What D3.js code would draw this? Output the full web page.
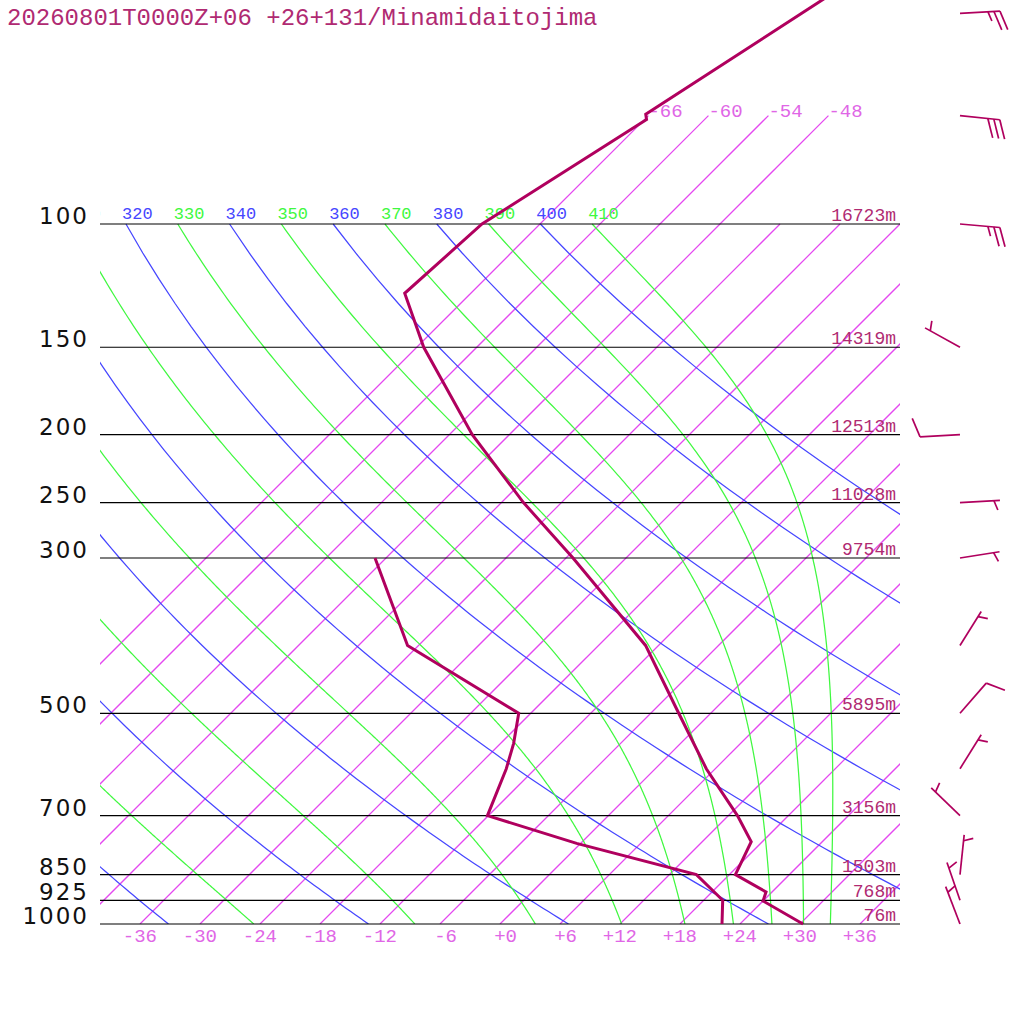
<!DOCTYPE html>
<html><head><meta charset="utf-8">
<script src="https://cdn.jsdelivr.net/npm/d3@7"></script>
<style>body{margin:0;background:#fff}</style>
</head><body>
<script>
// ---------------- data ----------------
const title = "20260801T0000Z+06 +26+131/Minamidaitojima";
const pressureLevels = [100, 150, 200, 250, 300, 500, 700, 850, 925, 1000];
const heightLabels = ["16723m", "14319m", "12513m", "11028m", "9754m", "5895m", "3156m", "1503m", "768m", "76m"];
const tempTicks = [-36, -30, -24, -18, -12, -6, 0, 6, 12, 18, 24, 30, 36];
const isotherms = [-66, -60, -54, -48, -42, -36, -30, -24, -18, -12, -6, 0, 6, 12, 18, 24, 30, 36];
const isothermTopLabels = [-66, -60, -54, -48];
const dryThetas = [240, 260, 280, 300, 320, 340, 360, 380, 400];
const moistThetas = [250, 270, 290, 310, 330, 350, 370, 390, 410];
const thetaLabels = [310, 320, 330, 340, 350, 360, 370, 380, 390, 400, 410];

const tempP = [1000, 927, 900, 850, 763, 700, 600, 500, 400, 300, 250, 200, 150, 125.6, 100, 70.9, 69.7, 50, 30];
const tempT = [30.3, 24.0, 23.4, 18.6, 16.9, 12.9, 5.1, -3.2, -13.3, -29.3, -39.8, -51.7, -65.3, -72.6, -71.8, -65.8, -66.4, -60.9, -52.5];
const dewP = [1000, 925, 850, 767, 700, 600, 552, 500, 400, 300];
const dewT = [22.2, 19.9, 14.7, -0.4, -12.1, -14.9, -16.7, -19.2, -37.1, -49.1];

const windP = [1000, 925, 850, 700, 600, 500, 400, 300, 250, 200, 150, 100, 70, 50];
const windDir = [339, 341, 6, 314, 32, 41, 32, 81, 87, 267, 299, 95, 96, 87];
const windSpd = [5, 5, 5, 5, 5, 10, 5, 5, 5, 10, 5, 25, 30, 25];

// ---------------- styles ----------------
const C_ISO = "#e448f0", C_ISO_LBL = "#e066e6";
const C_DRY = "#4646ff", C_MOIST = "#40f840";
const C_PROF = "#b0005e", C_TXT = "#b02a72";
const MONO = "'Liberation Mono', monospace";

// ---------------- scales ----------------
const y = d3.scaleLog().domain([1000, 100]).range([924, 224]);
const xT = d3.scaleLinear().domain([-40, 40]).range([100, 900]);
const sx = (T, p) => xT(T) + (y(1000) - y(p));
const K = 0.2857;

const svg = d3.select("body").append("svg").attr("width", 1024).attr("height", 1024);
svg.append("defs").append("clipPath").attr("id", "plot")
  .append("rect").attr("x", 100).attr("y", 0).attr("width", 800).attr("height", 924);
const plot = svg.append("g").attr("clip-path", "url(#plot)");

const skewLine = d3.line().x(d => sx(d.T, d.p)).y(d => y(d.p));
const thin = (sel, color) => sel.style("fill", "none").style("stroke", color).style("stroke-width", "1.25px");

// isotherms
isotherms.forEach(T => {
  const pTop = T <= -48 ? 70 : 100;
  thin(plot.append("path").attr("d", skewLine([{T: T, p: 1000}, {T: T, p: pTop}])), C_ISO);
});
isothermTopLabels.forEach(T => {
  plot.append("text").attr("x", sx(T, 70)).attr("y", y(70) + 1)
    .attr("font-family", MONO).attr("font-size", 19).attr("fill", C_ISO_LBL)
    .text(String(T));
});

// dry adiabats
const pSamples = d3.range(1000, 99, -10);
dryThetas.forEach(th => {
  const pts = pSamples.map(p => ({p, T: th * Math.pow(p / 1000, K) - 273.15}));
  thin(plot.append("path").attr("d", skewLine(pts)), C_DRY);
});

// moist (pseudo) adiabats, integrated downward from 100 hPa
function lapse(T, p) {
  const Rd = 287.04, Cp = 1005.7, Lv = 2.501e6, eps = 0.622;
  const Tc = T - 273.15;
  const es = 6.112 * Math.exp(17.67 * Tc / (Tc + 243.5));
  const rs = eps * es / (p - es);
  return ((Rd * T + Lv * rs) / p) / (Cp + (Lv * Lv * rs * eps) / (Rd * T * T));
}
moistThetas.forEach(th => {
  let p = 100, T = th * Math.pow(0.1, K);
  const pts = [{p, T: T - 273.15}];
  const dp = 2;
  while (p < 1000) {
    const k1 = lapse(T, p), k2 = lapse(T + k1 * dp / 2, p + dp / 2),
          k3 = lapse(T + k2 * dp / 2, p + dp / 2), k4 = lapse(T + k3 * dp, p + dp);
    T += dp * (k1 + 2 * k2 + 2 * k3 + k4) / 6; p += dp;
    pts.push({p, T: T - 273.15});
  }
  thin(plot.append("path").attr("d", skewLine(pts)), C_MOIST);
});

// theta labels at 100 hPa
thetaLabels.forEach(th => {
  const T = th * Math.pow(0.1, K) - 273.15;
  plot.append("text").attr("x", sx(T, 100) - 4).attr("y", y(100) - 5)
    .attr("font-family", MONO).attr("font-size", 17)
    .attr("fill", (th / 10) % 2 === 0 ? C_DRY : C_MOIST).text(th);
});

// pressure lines & labels
pressureLevels.forEach((p, i) => {
  svg.append("line").attr("x1", 100).attr("x2", 900).attr("y1", y(p)).attr("y2", y(p))
    .style("stroke", "#000").style("stroke-width", "1.2px");
  svg.append("text").attr("x", 89).attr("y", y(p)).attr("text-anchor", "end")
    .attr("font-family", "'DejaVu Sans', sans-serif").attr("font-size", 23)
    .attr("letter-spacing", 2).attr("fill", "#111").text(p);
  svg.append("text").attr("x", 896).attr("y", y(p) - 3).attr("text-anchor", "end")
    .attr("font-family", MONO).attr("font-size", 18).attr("fill", C_TXT).text(heightLabels[i]);
});

// bottom temperature labels
tempTicks.forEach(T => {
  svg.append("text").attr("x", xT(T) + 17).attr("y", 942).attr("text-anchor", "end")
    .attr("font-family", MONO).attr("font-size", 19).attr("fill", C_ISO_LBL)
    .text(T > 0 ? "+" + T : (T === 0 ? "+0" : String(T)));
});

// profiles
const prof = d3.line().x(d => sx(d[1], d[0])).y(d => y(d[0]));
svg.append("path").attr("d", prof(d3.zip(tempP, tempT)))
  .style("fill", "none").style("stroke", C_PROF).style("stroke-width", "3px");
svg.append("path").attr("d", prof(d3.zip(dewP, dewT)))
  .style("fill", "none").style("stroke", C_PROF).style("stroke-width", "3px");

// wind barbs
const rad = Math.PI / 180;
windP.forEach((p, i) => {
  const bx = 960, by = y(p), L = 40, dir = windDir[i] * rad;
  const dx = Math.sin(dir), dy = -Math.cos(dir);
  const tx = bx + dx * L, ty = by + dy * L;
  const fdir = (windDir[i] + 70) * rad;
  const fx = Math.sin(fdir), fy = -Math.cos(fdir);
  const g = svg.append("g").style("stroke", C_PROF).style("stroke-width", "1.7px").style("fill", "none");
  g.append("line").attr("x1", bx).attr("y1", by).attr("x2", tx).attr("y2", ty);
  const s = windSpd[i];
  let k = 0;
  const nFull = Math.floor(s / 10), half = (s % 10) >= 5;
  if (nFull === 0 && half) k = 1;
  for (let j = 0; j < nFull; j++, k++) {
    const px = tx - dx * 6 * k, py = ty - dy * 6 * k;
    g.append("line").attr("x1", px).attr("y1", py).attr("x2", px + fx * 20).attr("y2", py + fy * 20);
  }
  if (half) {
    const px = tx - dx * 6 * k, py = ty - dy * 6 * k;
    g.append("line").attr("x1", px).attr("y1", py).attr("x2", px + fx * 10).attr("y2", py + fy * 10);
  }
});

// title
svg.append("text").attr("x", 7).attr("y", 25).attr("font-family", MONO)
  .attr("font-size", 24).attr("fill", C_TXT).text(title);
</script>
</body></html>
